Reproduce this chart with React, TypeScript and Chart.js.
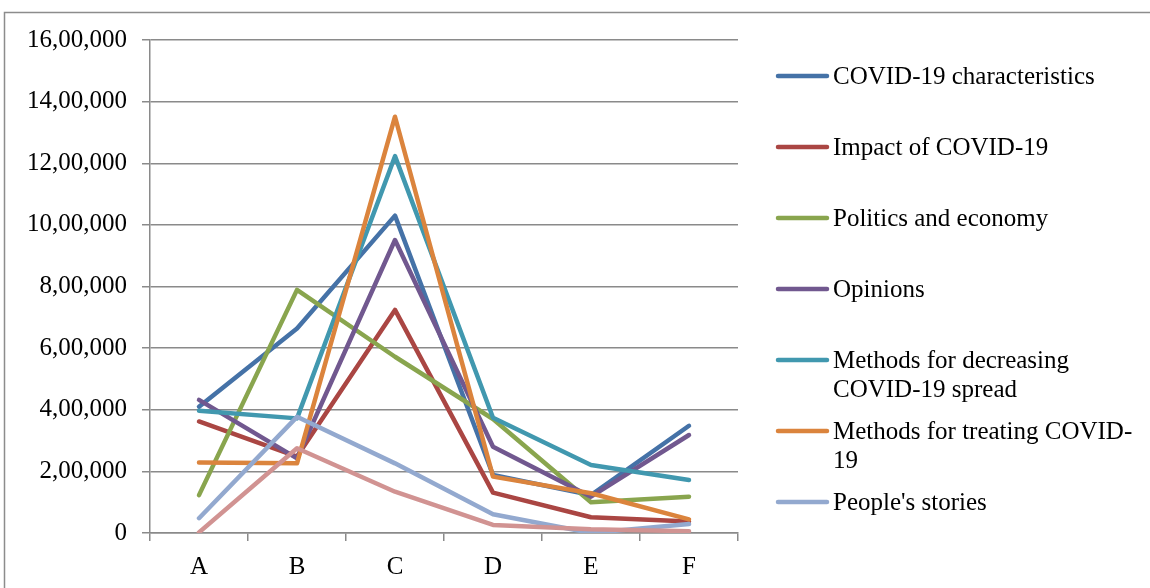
import React, { useEffect, useRef } from "react";
import { Chart, registerables } from "chart.js";

Chart.register(...registerables);

const categories = ["A", "B", "C", "D", "E", "F"];

const covidCharacteristics = [410000, 664000, 1030000, 188000, 123000, 348000];
const impactOfCovid = [362000, 248000, 724000, 131000, 51000, 37000];
const politicsAndEconomy = [123000, 789000, 572000, 370000, 100000, 118000];
const opinions = [432000, 242000, 951000, 280000, 118000, 318000];
const decreasingSpread = [397000, 372000, 1223000, 374000, 221000, 172000];
const treatingCovid = [229000, 226000, 1351000, 183000, 129000, 44000];
const peoplesStories = [48000, 377000, 226000, 61000, 0, 29000];
const others = [2000, 275000, 134000, 26000, 12000, 6000];

const seriesNames = [
  "COVID-19 characteristics",
  "Impact of COVID-19",
  "Politics and economy",
  "Opinions",
  "Methods for decreasing COVID-19 spread",
  "Methods for treating COVID-19",
  "People's stories",
  "Others",
];

const legendLabels: string[][] = [
  ["COVID-19 characteristics"],
  ["Impact of COVID-19"],
  ["Politics and economy"],
  ["Opinions"],
  ["Methods for decreasing", "COVID-19 spread"],
  ["Methods for treating COVID-", "19"],
  ["People's stories"],
];

const yTickLabels = [
  "0",
  "2,00,000",
  "4,00,000",
  "6,00,000",
  "8,00,000",
  "10,00,000",
  "12,00,000",
  "14,00,000",
  "16,00,000",
];

const seriesValues = [
  covidCharacteristics,
  impactOfCovid,
  politicsAndEconomy,
  opinions,
  decreasingSpread,
  treatingCovid,
  peoplesStories,
  others,
];

const colors = [
  "#4572A7",
  "#AA4643",
  "#89A54E",
  "#71588F",
  "#4198AF",
  "#DB843D",
  "#93A9CF",
  "#D19392",
];

const gridColor = "#8a8a8a";
const fontFamily = "'Liberation Serif', 'Times New Roman', serif";

const frameAndLegend = {
  id: "frameAndLegend",
  beforeDraw(chart: any) {
    const ctx = chart.ctx;
    ctx.save();
    ctx.fillStyle = "#ffffff";
    ctx.fillRect(0, 0, chart.width, chart.height);
    ctx.strokeStyle = "#8c8c8c";
    ctx.lineWidth = 1.5;
    ctx.strokeRect(4.5, 12.5, 1300, 700);
    ctx.restore();
  },
  afterDraw(chart: any) {
    const ctx = chart.ctx;
    ctx.save();
    const itemY = [76, 147, 218, 289, 360, 431, 502];
    const lineX0 = 778;
    const lineX1 = 827;
    const textX = 833;
    ctx.font = `25px ${fontFamily}`;
    ctx.textBaseline = "middle";
    ctx.textAlign = "left";
    legendLabels.forEach((lines, i) => {
      const y = itemY[i];
      ctx.strokeStyle = colors[i];
      ctx.lineWidth = 4.5;
      ctx.lineCap = "round";
      ctx.beginPath();
      ctx.moveTo(lineX0, y);
      ctx.lineTo(lineX1, y);
      ctx.stroke();
      ctx.fillStyle = "#000000";
      lines.forEach((t, j) => {
        ctx.fillText(t, textX, y + j * 29 + 1);
      });
    });
    ctx.restore();
  },
};

export default function App() {
  const canvasRef = useRef<HTMLCanvasElement | null>(null);

  useEffect(() => {
    if (!canvasRef.current) return;
    const chart = new Chart(canvasRef.current, {
      type: "line",
      data: {
        labels: categories,
        datasets: seriesValues.map((vals, i) => ({
          label: seriesNames[i],
          data: vals,
          borderColor: colors[i],
          backgroundColor: colors[i],
          borderWidth: 4.5,
          pointRadius: 0,
          pointHoverRadius: 0,
          tension: 0,
          fill: false,
          borderCapStyle: "round" as const,
          borderJoinStyle: "round" as const,
          order: seriesValues.length - i,
        })),
      },
      options: {
        responsive: false,
        animation: false,
        devicePixelRatio: 1,
        layout: { padding: { left: 0, right: 412, top: 40, bottom: 0 } },
        plugins: {
          legend: { display: false },
          tooltip: { enabled: false },
          title: { display: false },
        },
        scales: {
          x: {
            type: "category",
            offset: true,
            grid: {
              offset: true,
              drawOnChartArea: false,
              drawTicks: true,
              tickLength: 8,
              color: gridColor,
              lineWidth: 1.5,
            },
            border: { display: true, color: gridColor, width: 1.5 },
            ticks: {
              font: { family: fontFamily, size: 25 },
              color: "#000000",
              padding: 11,
              maxRotation: 0,
            },
            afterFit: (s: any) => {
              s.height = 55;
            },
          },
          y: {
            min: 0,
            max: 1600000,
            grid: {
              color: gridColor,
              lineWidth: 1.5,
              tickLength: 8,
              drawTicks: true,
            },
            border: { display: true, color: gridColor, width: 1.5 },
            ticks: {
              stepSize: 200000,
              font: { family: fontFamily, size: 25 },
              color: "#000000",
              padding: 15,
              callback: (v: any) => yTickLabels[Math.round(Number(v) / 200000)],
            },
            afterFit: (s: any) => {
              s.width = 150;
            },
          },
        },
      },
      plugins: [frameAndLegend],
    });
    return () => chart.destroy();
  }, []);

  return (
    <div style={{ position: "absolute", left: 0, top: 0, width: 1150, height: 588 }}>
      <canvas ref={canvasRef} width={1150} height={588} style={{ width: 1150, height: 588, display: "block" }} />
    </div>
  );
}
